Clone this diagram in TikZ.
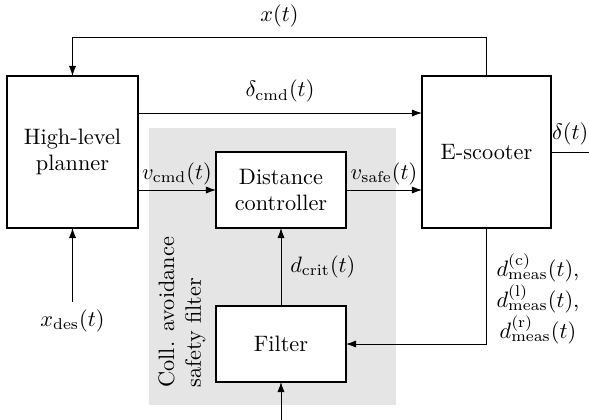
\documentclass[tikz,border=0pt]{standalone}
\usetikzlibrary{arrows.meta,calc}
\def\pxunit{0.4484pt}
\begin{document}
\begin{tikzpicture}[x=0.4484pt,y=-0.4484pt,
  blk/.style={draw,thick,fill=white,inner sep=0pt,outer sep=0pt,align=center},
  arr/.style={-{Latex[length=4.5pt,width=3.2pt]}},
  lbl/.style={inner sep=2pt}]
\useasboundingbox (0,0) rectangle (589,419);
% shaded safety-filter region
\fill[black!10] (149,128) rectangle (396,405);
\node[rotate=90, align=left, anchor=north west, inner sep=0pt] (cap) at (158,388) {Coll. avoidance\\safety filter};
% blocks
\node[blk, minimum width=131*\pxunit, minimum height=152*\pxunit] (plan) at (72.5,152) {High-level\\planner};
\node[blk, minimum width=129*\pxunit, minimum height=152*\pxunit] (esc) at (486.5,152) {E-scooter};
\node[blk, minimum width=130*\pxunit, minimum height=76*\pxunit] (dc) at (281,190) {Distance\\controller};
\node[blk, minimum width=130*\pxunit, minimum height=76*\pxunit] (filt) at (281,344) {Filter};
% connectors
\draw[arr] (esc.north) -- (esc.north |- 0,37.5) -| node[pos=0.25, above, inner sep=4.5pt] {$x(t)$} (plan.north);
\draw[arr] (plan.east |- 0,113) -- node[above, inner sep=4.5pt] {$\delta_{\mathrm{cmd}}(t)$} (esc.west |- 0,113);
\draw[arr] (plan.east |- dc.west) -- node[above, lbl] {$v_{\mathrm{cmd}}(t)$} (dc.west);
\draw[arr] (dc.east) -- node[above, lbl] {$v_{\mathrm{safe}}(t)$} (esc.west |- dc.east);
\draw[arr] (filt.north) -- node[right, inner sep=4pt] {$d_{\mathrm{crit}}(t)$} (dc.south);
\node (xdl) at (72.5,321) {$x_{\mathrm{des}}(t)$};
\draw[arr] (xdl.north) -- (plan.south);
\draw[arr] (esc.south) |- (filt.east);
\node[align=center] (meas) at (538,299) {$d^{(\mathrm{c})}_{\mathrm{meas}}(t)$,\\ $d^{(\mathrm{l})}_{\mathrm{meas}}(t)$,\\ $d^{(\mathrm{r})}_{\mathrm{meas}}(t)$};
\node[anchor=south west, inner xsep=0.3pt, inner ysep=3pt] (dl) at (esc.east) {$\delta(t)$};
\begin{scope}
\clip (0,0) rectangle (589,419);
\draw[arr] (esc.east) -- (589.2,152) -- (589.2,440) -| (filt.south);
\end{scope}
\end{tikzpicture}
\end{document}
